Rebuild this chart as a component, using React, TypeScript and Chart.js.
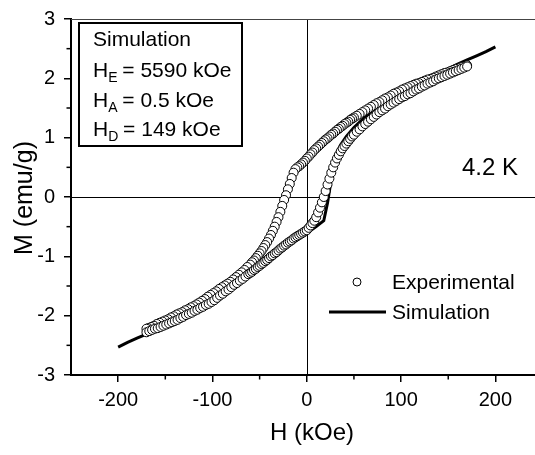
import React, { useEffect, useRef } from "react";
import { Chart, registerables } from "chart.js";

Chart.register(...registerables);

const FONT = "'Liberation Sans', Arial, Helvetica, sans-serif";

// Axis ticks
const xMajorTicks = [-200, -100, 0, 100, 200];
const xMinorTicks = [-150, -50, 50, 150];
const yMajorTicks = [-3, -2, -1, 0, 1, 2, 3];
const yMinorTicks = [-2.5, -1.5, -0.5, 0.5, 1.5, 2.5];

// Experimental data, decreasing-field branch (H in kOe, M in emu/g)
const expDownH = [
  170, 167, 164, 161, 158, 155, 152, 149, 146, 143, 140, 137, 134, 131, 128, 125, 122, 119, 116, 113, 110,
  107, 104, 101, 98, 95, 92, 89, 86, 83, 80, 77, 74, 71, 68, 65, 62, 59, 56, 53, 50,
  48, 46, 44, 42, 40, 38, 36, 34, 32, 30, 28, 26, 24, 22, 20, 18, 16, 14, 12, 10, 8, 6, 4, 2, 0,
  -2, -4, -6, -8, -10, -12, -14, -16, -18, -20, -22, -24, -26, -28, -30, -32, -34, -36, -38, -40,
  -42, -44, -46, -48, -50, -52, -54, -56, -58, -60,
  -63, -66, -69, -72, -75, -78, -81, -84, -87, -90, -93, -96, -99, -102, -105, -108, -111, -114, -117, -120,
  -123, -126, -129, -132, -135, -138, -141, -144, -147, -150, -153, -156, -159, -162, -165, -168, -170];
const expDownM = [
  2.22, 2.20, 2.19, 2.17, 2.16, 2.14, 2.12, 2.10, 2.09, 2.07, 2.05, 2.03, 2.01, 1.99, 1.98, 1.96, 1.94, 1.92, 1.91, 1.89, 1.87,
  1.85, 1.83, 1.81, 1.78, 1.76, 1.74, 1.71, 1.68, 1.66, 1.63, 1.60, 1.58, 1.55, 1.52, 1.49, 1.46, 1.43, 1.40, 1.37, 1.34,
  1.32, 1.30, 1.27, 1.25, 1.23, 1.20, 1.18, 1.15, 1.13, 1.10, 1.07, 1.05, 1.02, 0.99, 0.97, 0.94, 0.91, 0.88, 0.85, 0.82, 0.79, 0.75, 0.72, 0.68, 0.65,
  0.61, 0.58, 0.55, 0.52, 0.50, 0.47, 0.41, 0.32, 0.22, 0.13, 0.03, -0.05, -0.15, -0.25, -0.34, -0.42, -0.50, -0.57, -0.64, -0.70,
  -0.76, -0.81, -0.86, -0.91, -0.95, -0.99, -1.03, -1.07, -1.10, -1.14,
  -1.18, -1.23, -1.27, -1.31, -1.35, -1.39, -1.43, -1.46, -1.49, -1.52, -1.55, -1.59, -1.62, -1.65, -1.68, -1.72, -1.75, -1.78, -1.81, -1.84,
  -1.86, -1.89, -1.91, -1.94, -1.96, -1.98, -2.01, -2.03, -2.06, -2.08, -2.10, -2.12, -2.14, -2.17, -2.19, -2.21, -2.22];

// Experimental data, increasing-field branch
const expUpH = [
  -170, -167, -164, -161, -158, -155, -152, -149, -146, -143, -140, -137, -134, -131, -128, -125, -122, -119, -116, -113, -110,
  -107, -104, -101, -98, -95, -92, -89, -86, -83, -80, -77, -74, -71, -68, -65, -62,
  -60, -58, -56, -54, -52, -50, -48, -46, -44, -42, -40, -38, -36, -34, -32, -30, -28, -26, -24, -22, -20,
  -18, -16, -14, -12, -10, -8, -6, -4, -2, 0, 2, 4, 6, 8, 10, 12, 14, 16, 18, 20,
  22, 24, 26, 28, 30, 32, 34, 36, 38, 40, 42, 44, 46, 48, 50,
  53, 56, 59, 62, 65, 68, 71, 74, 77, 80, 83, 86, 89, 92, 95, 98, 101, 104, 107, 110,
  113, 116, 119, 122, 125, 128, 131, 134, 137, 140, 143, 146, 149, 152, 155, 158, 161, 164, 167, 170];
const expUpM = [
  -2.28, -2.26, -2.24, -2.22, -2.21, -2.19, -2.17, -2.15, -2.13, -2.11, -2.09, -2.07, -2.04, -2.02, -1.99, -1.97, -1.95, -1.92, -1.90, -1.87, -1.85,
  -1.82, -1.80, -1.77, -1.74, -1.70, -1.66, -1.63, -1.59, -1.56, -1.52, -1.48, -1.45, -1.41, -1.38, -1.34, -1.30,
  -1.28, -1.26, -1.23, -1.21, -1.18, -1.16, -1.13, -1.11, -1.08, -1.06, -1.03, -1.00, -0.98, -0.95, -0.93, -0.90, -0.87, -0.85, -0.82, -0.80, -0.77,
  -0.75, -0.73, -0.70, -0.68, -0.66, -0.64, -0.62, -0.60, -0.58, -0.56, -0.52, -0.48, -0.44, -0.40, -0.34, -0.26, -0.18, -0.09, 0.00, 0.10,
  0.21, 0.31, 0.41, 0.50, 0.58, 0.65, 0.71, 0.77, 0.82, 0.86, 0.90, 0.94, 0.98, 1.02, 1.05,
  1.10, 1.14, 1.19, 1.23, 1.27, 1.31, 1.35, 1.39, 1.43, 1.46, 1.49, 1.53, 1.56, 1.59, 1.62, 1.65, 1.68, 1.70, 1.73, 1.75,
  1.78, 1.81, 1.83, 1.86, 1.88, 1.91, 1.93, 1.95, 1.98, 2.00, 2.02, 2.04, 2.06, 2.08, 2.10, 2.12, 2.14, 2.16, 2.18, 2.20];

// Simulation, decreasing-field branch
const simDownH = [200, 190, 180, 170, 160, 150, 140, 130, 120, 110, 100, 90, 80, 70, 60, 50, 40, 30, 20, 10, 0,
  -8, -14, -18, -22, -26, -30, -36, -42, -50, -60, -70, -80, -90, -100, -110, -120, -130, -140, -150, -160, -170, -180, -190, -200];
const simDownM = [2.53, 2.45, 2.38, 2.31, 2.24, 2.16, 2.09, 2.01, 1.94, 1.86, 1.78, 1.70, 1.61, 1.52, 1.42, 1.32, 1.21, 1.09, 0.96, 0.81, 0.64,
  0.52, 0.44, 0.28, 0.05, -0.18, -0.38, -0.60, -0.78, -0.97, -1.16, -1.32, -1.46, -1.58, -1.70, -1.80, -1.90, -1.99, -2.07, -2.15, -2.23, -2.31, -2.38, -2.45, -2.53];

// Simulation, increasing-field branch
const simUpH = [-200, -190, -180, -170, -160, -150, -140, -130, -120, -110, -100, -90, -80, -70, -60, -50, -40, -30, -20, -10, 0,
  10, 18, 22, 25, 28, 32, 36, 42, 50, 60, 70, 80, 90, 100, 110, 120, 130, 140, 150, 160, 170, 180, 190, 200];
const simUpM = [-2.53, -2.45, -2.38, -2.31, -2.23, -2.15, -2.07, -1.99, -1.90, -1.80, -1.72, -1.64, -1.52, -1.40, -1.28, -1.15, -1.02, -0.90, -0.79, -0.70, -0.61,
  -0.50, -0.40, -0.10, 0.20, 0.50, 0.74, 0.88, 1.02, 1.17, 1.32, 1.46, 1.58, 1.70, 1.78, 1.86, 1.94, 2.01, 2.09, 2.16, 2.24, 2.31, 2.38, 2.45, 2.53];

const toPoints = (hs: number[], ms: number[]) => hs.map((h, i) => ({ x: h, y: ms[i] }));

const decorPlugin = {
  id: "decor",
  beforeDatasetsDraw(chart: any) {
    const { ctx, chartArea: a, scales } = chart;
    const x = scales.x;
    const y = scales.y;
    ctx.save();
    ctx.strokeStyle = "#000";
    ctx.lineWidth = 1;
    const x0 = Math.round(x.getPixelForValue(0)) + 0.5;
    ctx.beginPath();
    ctx.moveTo(x0, a.top);
    ctx.lineTo(x0, a.bottom);
    ctx.stroke();
    const y0 = Math.round(y.getPixelForValue(0)) + 0.5;
    ctx.beginPath();
    ctx.moveTo(a.left, y0);
    ctx.lineTo(a.right, y0);
    ctx.stroke();
    ctx.strokeStyle = "#444";
    ctx.beginPath();
    ctx.moveTo(a.left, a.top + 0.5);
    ctx.lineTo(a.right, a.top + 0.5);
    ctx.stroke();
    ctx.restore();
  },
  afterDraw(chart: any) {
    const { ctx, chartArea: a, scales } = chart;
    const x = scales.x;
    const y = scales.y;
    ctx.save();
    // minor ticks
    ctx.strokeStyle = "#000";
    ctx.lineWidth = 1.5;
    xMinorTicks.forEach((v) => {
      const px = x.getPixelForValue(v);
      ctx.beginPath();
      ctx.moveTo(px, a.bottom);
      ctx.lineTo(px, a.bottom + 4.5);
      ctx.stroke();
    });
    yMinorTicks.forEach((v) => {
      const py = y.getPixelForValue(v);
      ctx.beginPath();
      ctx.moveTo(a.left, py);
      ctx.lineTo(a.left - 4.5, py);
      ctx.stroke();
    });

    ctx.fillStyle = "#000";
    // axis titles
    ctx.textAlign = "center";
    ctx.textBaseline = "middle";
    ctx.font = `24px ${FONT}`;
    ctx.fillText("H (kOe)", 312, 433);
    ctx.save();
    ctx.translate(25, 198);
    ctx.rotate(-Math.PI / 2);
    ctx.font = `25px ${FONT}`;
    ctx.fillText("M (emu/g)", 0, 0);
    ctx.restore();

    // inset box
    ctx.lineWidth = 2;
    ctx.strokeRect(79, 23, 163, 123);
    ctx.textAlign = "left";
    ctx.textBaseline = "alphabetic";
    const big = `21px ${FONT}`;
    const small = `14px ${FONT}`;
    ctx.font = big;
    ctx.fillText("Simulation", 93, 46);
    const rows: [string, string, number][] = [
      ["E", " = 5590 kOe", 77],
      ["A", " = 0.5 kOe", 107],
      ["D", " = 149 kOe", 136],
    ];
    rows.forEach(([sub, rest, base]) => {
      let cx = 93;
      ctx.font = big;
      ctx.fillText("H", cx, base);
      cx += ctx.measureText("H").width;
      ctx.font = small;
      ctx.fillText(sub, cx, base + 5);
      cx += ctx.measureText(sub).width - 1;
      ctx.font = big;
      ctx.fillText(rest, cx, base);
    });

    // temperature label
    ctx.font = `24px ${FONT}`;
    ctx.textBaseline = "middle";
    ctx.fillText("4.2 K", 462, 168);

    // legend
    ctx.font = big;
    ctx.beginPath();
    ctx.arc(357, 282, 4, 0, Math.PI * 2);
    ctx.fillStyle = "#fff";
    ctx.fill();
    ctx.lineWidth = 1;
    ctx.strokeStyle = "#000";
    ctx.stroke();
    ctx.fillStyle = "#000";
    ctx.fillText("Experimental", 392, 283);
    ctx.lineWidth = 3;
    ctx.beginPath();
    ctx.moveTo(329, 312);
    ctx.lineTo(386, 312);
    ctx.stroke();
    ctx.fillText("Simulation", 392, 313);
    ctx.restore();
  },
};

export default function App() {
  const canvasRef = useRef<HTMLCanvasElement | null>(null);

  useEffect(() => {
    document.body.style.margin = "0";
    const canvas = canvasRef.current;
    if (!canvas) return;
    const chart = new Chart(canvas, {
      type: "scatter",
      data: {
        datasets: [
          {
            label: "Experimental",
            data: [...toPoints(expDownH, expDownM), ...toPoints(expUpH, expUpM)],
            showLine: false,
            pointStyle: "circle",
            pointRadius: 4.5,
            pointBorderWidth: 1,
            pointBackgroundColor: "#fff",
            pointBorderColor: "#000",
          },
          {
            label: "Simulation",
            data: [...toPoints(simDownH, simDownM), ...toPoints(simUpH, simUpM)],
            showLine: true,
            borderColor: "#000",
            borderWidth: 3,
            pointRadius: 0,
            tension: 0,
            fill: false,
          },
        ],
      },
      options: {
        responsive: false,
        animation: false,
        devicePixelRatio: 1,
        layout: { autoPadding: false, padding: { top: 19, left: 0, right: 0, bottom: 0 } },
        plugins: {
          legend: { display: false },
          tooltip: { enabled: false },
        },
        scales: {
          x: {
            type: "linear",
            min: -250,
            max: 242,
            afterBuildTicks: (s: any) => {
              s.ticks = xMajorTicks.map((v) => ({ value: v }));
            },
            afterFit: (s: any) => {
              s.height = 80;
              s.paddingLeft = 0;
              s.paddingRight = 0;
            },
            grid: {
              display: true,
              drawOnChartArea: false,
              drawTicks: true,
              tickLength: 7,
              color: "#000",
              lineWidth: 1.5,
            },
            border: { display: true, color: "#000", width: 2 },
            ticks: {
              color: "#000",
              font: { family: FONT, size: 20 },
              padding: 6,
              maxRotation: 0,
              autoSkip: false,
            },
          },
          y: {
            type: "linear",
            min: -3,
            max: 3,
            afterBuildTicks: (s: any) => {
              s.ticks = yMajorTicks.map((v) => ({ value: v }));
            },
            afterFit: (s: any) => {
              s.width = 71;
              s.paddingTop = 0;
              s.paddingBottom = 0;
            },
            grid: {
              display: true,
              drawOnChartArea: false,
              drawTicks: true,
              tickLength: 7,
              color: "#000",
              lineWidth: 1.5,
            },
            border: { display: true, color: "#000", width: 2 },
            ticks: {
              color: "#000",
              font: { family: FONT, size: 20 },
              padding: 9,
              autoSkip: false,
            },
          },
        },
      },
      plugins: [decorPlugin],
    } as any);
    return () => chart.destroy();
  }, []);

  return (
    <div style={{ position: "absolute", left: 0, top: 0, width: 535, height: 455, background: "#fff" }}>
      <canvas ref={canvasRef} width={535} height={455} />
    </div>
  );
}
